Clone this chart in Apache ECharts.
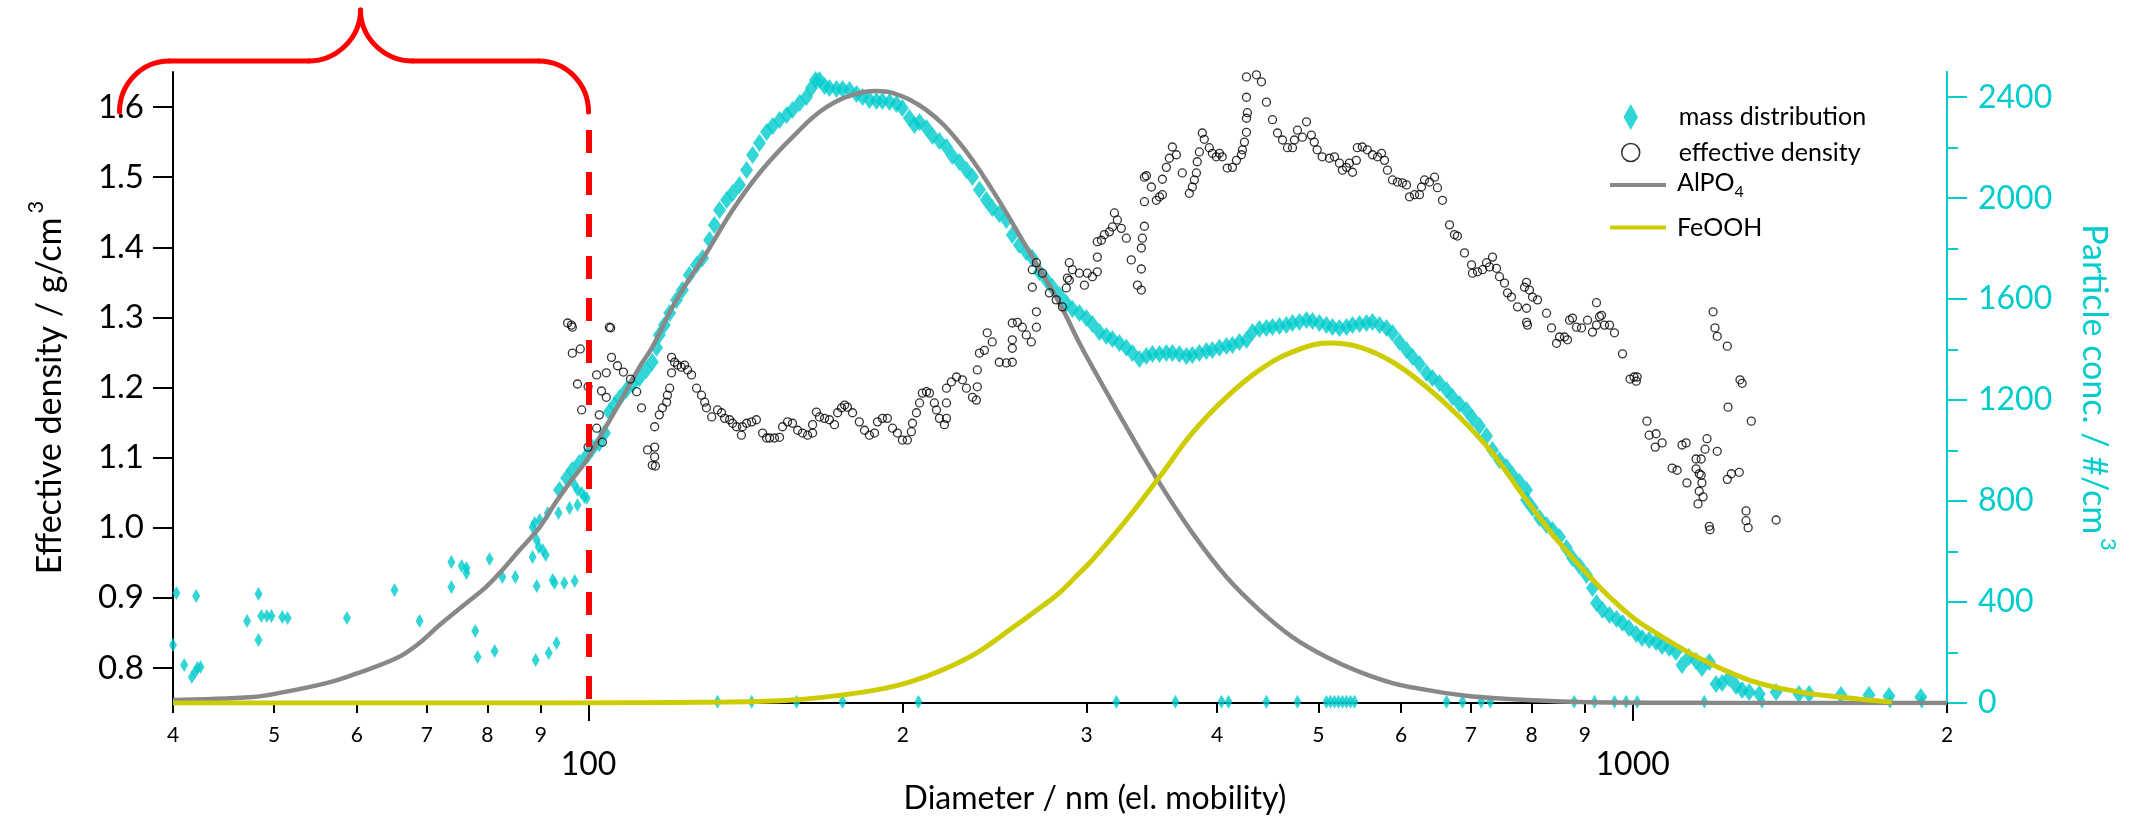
<!DOCTYPE html>
<html lang="en">
<head>
    <meta charset="UTF-8">
    <title>Effective density and mass distribution</title>
    <script src="https://cdn.jsdelivr.net/npm/echarts@6/dist/echarts.min.js"></script>
    <style>
        * { box-sizing: border-box; margin: 0; padding: 0; }
        body { background: #ffffff; }
        #chart-container { width: 2149px; height: 819px; }
    </style>
</head>
<body>
    <div id="chart-container"></div>

    <script type="text/javascript">
        // ---- data: [diameter nm, value] ----
        // mass distribution (right axis, #/cm3): sparse points below 100 nm
        const massScatter = [[40.3,436],[40.0,230],[42.1,424],[41.0,151],[41.7,103],[42.0,123],[42.2,139],[42.5,143],[47.1,325],[48.3,432],[48.3,250],[48.6,345],[49.2,345],[49.7,345],[50.9,341],[51.5,337],[58.7,337],[65.2,448],[68.9,325],[73.9,559],[73.9,460],[75.6,543],[76.4,535],[76.4,515],[77.9,285],[78.3,182],[80.4,571],[81.3,206],[82.7,499],[85.1,499],[88.4,578],[89.2,464],[88.4,697],[88.8,713],[89.8,725],[89.2,646],[89.6,618],[90.4,606],[91.0,586],[89.0,170],[91.6,198],[93.2,238],[92.4,487],[92.8,475],[94.8,475],[97.0,483],[91.4,753],[93.6,753],[95.9,773],[97.6,784],[97.0,864],[97.6,844],[98.5,832],[99.1,816],[99.6,812]];
        // mass distribution: the dense band
        const massBand = [[93.8,844],[95.3,891],[96.5,923],[98.0,951],[99.6,979],[100.9,1010],[102.4,1030],[103.6,1070],[104.7,1153],[105.9,1181],[107.1,1208],[108.7,1240],[110.2,1264],[111.9,1288],[113.6,1319],[115.1,1351],[116.2,1407],[116.9,1458],[118.2,1498],[119.6,1545],[121.4,1597],[123.0,1636],[124.9,1696],[126.9,1735],[128.6,1763],[130.6,1834],[132.0,1894],[133.5,1953],[135.6,1993],[137.4,2021],[139.5,2052],[141.7,2112],[143.6,2171],[145.8,2219],[148.1,2262],[150.1,2286],[152.4,2310],[154.8,2330],[156.8,2349],[159.3,2377],[161.7,2401],[163.5,2437],[165.0,2468],[166.4,2468],[168.3,2445],[170.1,2437],[172.8,2433],[175.1,2433],[177.8,2429],[180.6,2413],[183.0,2401],[185.8,2389],[188.7,2385],[191.2,2385],[194.2,2381],[197.2,2373],[199.8,2357],[202.9,2318],[205.2,2290],[207.5,2302],[210.7,2278],[213.5,2246],[216.8,2227],[220.2,2203],[223.1,2167],[226.6,2143],[230.1,2112],[233.2,2084],[236.8,2033],[240.4,1993],[243.6,1961],[247.4,1937],[251.3,1914],[254.6,1854],[258.6,1815],[262.6,1787],[266.1,1763],[270.3,1708],[274.5,1676],[278.1,1648],[282.4,1616],[286.8,1585],[290.7,1561],[295.2,1545],[299.8,1525],[303.8,1502],[308.5,1470],[313.3,1454],[317.5,1442],[322.4,1426],[327.4,1407],[331.8,1387],[337.0,1363],[342.2,1375],[346.8,1383],[352.2,1383],[357.6,1387],[362.4,1387],[368.0,1383],[373.8,1375],[378.7,1379],[384.6,1387],[390.6,1395],[395.8,1399],[402.0,1407],[408.3,1414],[413.7,1418],[420.1,1430],[426.7,1438],[432.4,1470],[439.1,1482],[445.9,1486],[451.9,1490],[458.9,1494],[466.0,1498],[472.3,1506],[479.6,1510],[487.1,1517],[493.6,1513],[501.2,1506],[509.0,1498],[515.8,1490],[523.8,1486],[532.0,1490],[539.1,1498],[547.5,1502],[556.0,1506],[563.4,1510],[572.2,1498],[581.1,1486],[588.8,1466],[598.0,1430],[607.3,1399],[615.4,1371],[624.9,1343],[634.7,1307],[643.1,1288],[653.1,1268],[663.3,1240],[672.1,1212],[682.6,1185],[693.2,1161],[702.4,1129],[713.4,1097],[724.5,1058],[734.1,1002],[745.5,963],[757.1,935],[767.2,903],[779.1,876],[791.3,844],[791.3,804],[801.8,773],[814.3,733],[826.9,705],[838.0,685],[851.0,658],[864.2,614],[875.7,574],[889.4,543],[903.2,507],[915.2,456],[923.3,396],[935.6,368],[950.2,349],[965.0,333],[977.8,317],[992.1,297],[1008,273],[1021,258],[1037,250],[1053,242],[1067,226],[1084,218],[1100,202],[1115,151],[1132,182],[1150,166],[1165,139],[1184,162],[1202,75],[1218,79],[1237,99],[1256,67],[1273,52],[1293,44],[1322,36],[1372,44],[1443,36],[1476,36],[1583,32],[1684,32],[1760,28],[1888,24]];
        // mass distribution: points sitting on the zero line
        const massFloor = [[132.9,5],[143.3,5],[158.2,5],[175.1,5],[207.0,5],[320.3,5],[364.8,5],[403.8,5],[410.1,5],[445.9,5],[477.5,5],[509.0,5],[513.6,5],[518.1,5],[522.7,5],[527.3,5],[532.0,5],[536.7,5],[541.5,5],[663.3,5],[687.1,5],[716.1,5],[730.5,5],[878.9,5],[919.3,5],[960.7,5],[985.6,5],[1010,5],[1171,5],[1330,5],[1764,5],[1892,5]];

        // effective density (left axis, g/cm3)
        const densityPoints = [[95.5,1.292],[96.3,1.289],[96.5,1.286],[104.7,1.286],[105.0,1.285],[96.5,1.249],[98.2,1.255],[105.2,1.243],[106.6,1.231],[101.8,1.218],[104.0,1.221],[97.6,1.205],[99.9,1.201],[102.9,1.195],[104.0,1.186],[108.0,1.222],[109.7,1.212],[111.2,1.194],[112.4,1.171],[98.5,1.168],[102.4,1.161],[101.8,1.142],[103.1,1.122],[99.9,1.115],[115.7,1.144],[113.9,1.111],[115.7,1.115],[115.7,1.101],[115.1,1.089],[115.9,1.088],[116.9,1.161],[117.7,1.171],[118.8,1.179],[119.0,1.189],[119.6,1.199],[120.1,1.221],[120.1,1.243],[120.9,1.236],[121.7,1.232],[122.7,1.229],[123.6,1.232],[124.4,1.225],[125.5,1.218],[126.9,1.199],[128.3,1.189],[129.2,1.179],[129.7,1.171],[131.2,1.158],[132.9,1.168],[134.1,1.164],[135.0,1.156],[136.5,1.154],[137.4,1.149],[138.6,1.144],[140.1,1.132],[140.4,1.144],[141.7,1.149],[143.3,1.151],[144.8,1.154],[146.8,1.135],[148.1,1.128],[149.1,1.128],[150.7,1.128],[152.4,1.129],[153.4,1.144],[155.1,1.151],[156.8,1.149],[158.6,1.139],[160.3,1.135],[162.1,1.132],[163.9,1.135],[163.9,1.147],[165.3,1.165],[166.4,1.158],[168.3,1.156],[170.1,1.154],[172.0,1.147],[173.2,1.164],[174.7,1.171],[175.9,1.175],[177.0,1.172],[179.0,1.164],[181.7,1.151],[183.8,1.139],[185.8,1.132],[187.9,1.135],[189.1,1.151],[191.2,1.156],[193.3,1.156],[195.5,1.142],[197.6,1.135],[199.8,1.125],[202.0,1.125],[203.8,1.137],[204.3,1.149],[206.1,1.164],[207.5,1.178],[208.8,1.192],[210.7,1.194],[212.1,1.192],[214.4,1.178],[215.4,1.168],[216.8,1.156],[219.2,1.147],[220.2,1.156],[220.2,1.178],[220.2,1.199],[222.6,1.208],[225.1,1.215],[228.1,1.211],[230.1,1.199],[233.2,1.186],[235.2,1.182],[235.7,1.201],[235.7,1.225],[236.8,1.249],[239.4,1.253],[240.9,1.278],[243.6,1.265],[247.4,1.236],[251.3,1.235],[254.6,1.236],[254.6,1.256],[254.6,1.268],[254.6,1.292],[257.5,1.293],[260.3,1.286],[262.6,1.275],[265.5,1.265],[268.5,1.286],[268.5,1.308],[266.1,1.368],[268.5,1.378],[272.1,1.363],[266.1,1.343],[276.3,1.335],[280.5,1.325],[288.7,1.378],[290.7,1.368],[288.7,1.353],[284.3,1.315],[286.8,1.342],[287.5,1.356],[295.2,1.363],[298.5,1.346],[300.4,1.363],[303.8,1.358],[307.1,1.365],[307.1,1.386],[307.1,1.408],[309.9,1.410],[311.9,1.418],[315.4,1.422],[317.5,1.429],[318.9,1.449],[321.0,1.439],[323.8,1.427],[327.4,1.413],[331.0,1.382],[335.5,1.346],[338.4,1.339],[338.4,1.369],[338.4,1.399],[339.2,1.413],[340.7,1.430],[340.7,1.465],[340.7,1.500],[342.2,1.502],[346.0,1.486],[349.8,1.467],[352.2,1.472],[354.5,1.475],[354.5,1.497],[357.6,1.514],[360.0,1.527],[362.4,1.543],[365.6,1.532],[370.4,1.506],[376.2,1.477],[378.7,1.486],[380.4,1.496],[382.1,1.506],[382.8,1.522],[384.6,1.536],[387.1,1.563],[388.8,1.554],[393.1,1.542],[395.8,1.534],[399.2,1.529],[402.0,1.534],[404.5,1.529],[409.0,1.513],[413.7,1.514],[417.4,1.524],[422.0,1.532],[422.9,1.539],[424.8,1.550],[426.7,1.564],[426.7,1.584],[427.6,1.592],[426.7,1.614],[426.7,1.643],[436.2,1.646],[441.0,1.636],[445.9,1.607],[451.9,1.582],[456.9,1.563],[462.0,1.553],[467.1,1.542],[472.3,1.542],[474.3,1.553],[477.5,1.567],[482.7,1.557],[487.1,1.579],[492.4,1.560],[495.5,1.550],[498.7,1.539],[504.3,1.529],[512.4,1.527],[518.1,1.529],[523.8,1.520],[527.3,1.510],[532.0,1.514],[535.4,1.520],[539.1,1.507],[543.7,1.524],[544.9,1.542],[550.9,1.543],[557.0,1.539],[563.4,1.532],[569.7,1.529],[574.7,1.534],[578.5,1.524],[582.3,1.510],[588.8,1.496],[595.3,1.493],[601.9,1.492],[607.3,1.489],[611.3,1.472],[618.1,1.475],[624.9,1.475],[627.7,1.486],[631.9,1.496],[638.9,1.493],[646.0,1.500],[650.2,1.485],[657.4,1.467],[667.7,1.432],[675.1,1.418],[679.5,1.416],[690.1,1.392],[700.9,1.375],[702.4,1.363],[710.2,1.365],[718.1,1.368],[724.5,1.378],[729.3,1.372],[734.1,1.386],[740.6,1.370],[745.5,1.358],[753.8,1.349],[758.8,1.335],[765.5,1.329],[775.7,1.315],[787.8,1.343],[791.3,1.350],[796.5,1.339],[801.8,1.329],[810.7,1.325],[791.3,1.313],[791.3,1.293],[793.0,1.289],[827.0,1.306],[836.1,1.285],[845.4,1.263],[851.0,1.272],[860.4,1.272],[870.0,1.296],[875.7,1.299],[883.5,1.286],[893.3,1.285],[905.2,1.296],[915.2,1.279],[923.3,1.289],[929.4,1.301],[939.8,1.289],[950.2,1.289],[960.7,1.278],[923.3,1.321],[933.6,1.303],[866.1,1.268],[977.8,1.248],[994.3,1.212],[1003,1.215],[1008,1.209],[1010,1.215],[1032,1.152],[1037,1.132],[1053,1.134],[1051,1.115],[1067,1.121],[1091,1.085],[1103,1.082],[1115,1.118],[1125,1.121],[1127,1.064],[1150,1.098],[1163,1.098],[1150,1.084],[1158,1.077],[1163,1.075],[1165,1.064],[1158,1.052],[1168,1.044],[1155,1.034],[1173,1.112],[1178,1.127],[1205,1.109],[1194,1.308],[1199,1.285],[1205,1.273],[1232,1.259],[1267,1.211],[1273,1.206],[1234,1.172],[1299,1.152],[1232,1.069],[1243,1.077],[1265,1.079],[1184,1.002],[1186,0.997],[1284,1.024],[1284,1.010],[1290,1.000],[1372,1.011]];

        // fitted modes (right axis)
        const alpo4Fit = [[40,12],[47.7,24],[50.6,40],[56.1,79],[59.4,111],[65.5,178],[68.9,238],[72.0,309],[76.4,396],[79.8,460],[82.7,527],[85.9,606],[89.8,697],[92.4,777],[95.9,872],[99.6,963],[103.1,1070],[107.1,1189],[111.9,1331],[115.1,1410],[121.4,1597],[129.7,1783],[137.4,1953],[145.8,2100],[156.8,2242],[169.0,2361],[183.6,2421],[188.7,2425],[195.5,2417],[210.7,2349],[226.6,2219],[243.6,2033],[262.6,1807],[282.4,1585],[295.2,1426],[303.8,1331],[327.4,1094],[352.2,872],[378.7,674],[408.3,499],[439.1,368],[472.3,261],[509.0,182],[547.5,123],[588.8,79],[634.7,52],[682.6,32],[733.7,20],[791.3,12],[889.4,4],[1158,1],[2000,0]];
        const feoohFit = [[40,0],[93.8,0],[135.6,4],[156.8,12],[175.1,32],[188.7,52],[202.9,83],[218.2,131],[235.2,198],[253.0,289],[272.1,384],[282.4,436],[295.2,515],[303.8,567],[327.4,725],[352.2,895],[378.7,1070],[408.3,1212],[439.1,1319],[472.3,1391],[512.4,1426],[547.5,1410],[588.8,1351],[634.7,1252],[682.6,1133],[733.7,991],[791.3,804],[851.0,634],[929.4,460],[998.7,341],[1053,277],[1158,178],[1293,91],[1443,44],[1611,20],[1771,4]];

        // ticks and tick labels
        const xMinorTicks = [40,50,60,70,80,90,200,300,400,500,600,700,800,900,2000];
        const xMinorLabels = ['4','5','6','7','8','9','2','3','4','5','6','7','8','9','2'];
        const xMajorTicks = [100,1000];
        const densityTicks = [0.8,0.9,1.0,1.1,1.2,1.3,1.4,1.5,1.6];
        const concTicks = [0,400,800,1200,1600,2000,2400];
        const concMinorTicks = [200,600,1000,1400,1800,2200];

        const FONT = 'Lato, "Open Sans", sans-serif';
        const CYAN = '#00cccc';
        const LINE_ICON = 'path://M0,0H56V4H0Z';

        function minorLabel(v) {
            const val = v < 10 ? Math.pow(10, v) : v; // guard in case log values come through
            let best = 0, bestDiff = Infinity;
            xMinorTicks.forEach(function (t, i) {
                const d = Math.abs(Math.log10(t) - Math.log10(val));
                if (d < bestDiff) { bestDiff = d; best = i; }
            });
            return xMinorLabels[best];
        }
        function majorLabel(v) {
            const val = v < 10 ? Math.pow(10, v) : v;
            return String(Math.round(val));
        }

        // one legend block per fitted line so each row can be placed on its own
        function lineLegend(name, top) {
            return {
                orient: 'vertical', left: 1605, top: top,
                itemWidth: 56, itemHeight: 14,
                symbolKeepAspect: true,
                textStyle: {
                    fontSize: 25, color: '#000', fontFamily: FONT, padding: [0, 0, 0, 6],
                    rich: {
                        n: { fontSize: 25, lineHeight: 30, verticalAlign: 'top', fontFamily: FONT, color: '#000' },
                        sub: { fontSize: 16, lineHeight: 16, verticalAlign: 'bottom', padding: [14, 0, 0, 0], fontFamily: FONT, color: '#000' }
                    }
                },
                formatter: function (n) {
                    return n === 'AlPO4' ? '{n|AlPO}{sub|4}' : n;
                },
                data: [{ name: name, icon: LINE_ICON }]
            };
        }

        const chartDom = document.getElementById('chart-container');
        let myChart = echarts.init(chartDom, null, { renderer: 'canvas' });

        const option = {
            animation: false,
            backgroundColor: '#ffffff',
            textStyle: { fontFamily: FONT },
            grid: { left: 173, right: 202, top: 72, bottom: 116, containLabel: false, outerBoundsMode: 'none' },
            legend: [
                {
                    orient: 'vertical', left: 1616, top: 99,
                    itemWidth: 18, itemHeight: 26, itemGap: 10,
                    symbolKeepAspect: true,
                    textStyle: { fontSize: 25, color: '#000', fontFamily: FONT, padding: [0, 0, 0, 34] },
                    data: [
                        { name: 'mass distribution', icon: 'path://M0,-12.5L7,0L0,12.5L-7,0Z' },
                        { name: 'effective density', icon: 'circle', itemStyle: { color: '#ffffff', borderColor: '#000', borderWidth: 1.5 } }
                    ]
                },
                lineLegend('AlPO4', 165),
                lineLegend('FeOOH', 210)
            ],
            xAxis: [
                {
                    type: 'log', logBase: 10, min: 40, max: 2000, position: 'bottom',
                    name: 'Diameter / nm (el. mobility)',
                    nameLocation: 'middle', nameGap: 80,
                    nameTextStyle: { fontSize: 32, color: '#000', fontFamily: FONT, padding: [0, 0, 0, 70] },
                    axisLine: { show: true, lineStyle: { color: '#000', width: 2 } },
                    axisTick: { show: true, customValues: xMinorTicks, length: 10, lineStyle: { color: '#000', width: 2 } },
                    axisLabel: { show: true, customValues: xMinorTicks, formatter: minorLabel, fontSize: 21, margin: 22, color: '#000', fontFamily: FONT },
                    splitLine: { show: false },
                    minorTick: { show: false }
                },
                {
                    type: 'log', logBase: 10, min: 40, max: 2000, position: 'bottom',
                    axisLine: { show: false },
                    axisTick: { show: true, customValues: xMajorTicks, length: 18, lineStyle: { color: '#000', width: 2 } },
                    axisLabel: { show: true, customValues: xMajorTicks, formatter: majorLabel, fontSize: 32, margin: 46, color: '#000', fontFamily: FONT },
                    splitLine: { show: false }
                }
            ],
            yAxis: [
                {
                    type: 'value', min: 0.75, max: 1.65, position: 'left',
                    name: '{a|Effective density / g/cm}{s|3}',
                    nameLocation: 'middle', nameGap: 106,
                    nameTextStyle: {
                        rich: {
                            a: { fontSize: 34, lineHeight: 42, verticalAlign: 'bottom', padding: [14, 0, 0, 0], color: '#000', fontFamily: FONT },
                            s: { fontSize: 22, verticalAlign: 'top', padding: [0, 0, 0, 4], color: '#000', fontFamily: FONT }
                        }
                    },
                    axisLine: { show: true, lineStyle: { color: '#000', width: 2 } },
                    axisTick: { show: true, customValues: densityTicks, length: 20, lineStyle: { color: '#000', width: 2 } },
                    axisLabel: {
                        show: true, customValues: densityTicks, margin: 29, fontSize: 33, color: '#000', fontFamily: FONT,
                        formatter: function (v) { return Number(v).toFixed(1); }
                    },
                    splitLine: { show: false }
                },
                {
                    type: 'value', min: 0, max: 2500, position: 'right',
                    name: '{a|Particle conc. / #/cm}{s|3}',
                    nameLocation: 'middle', nameGap: 130, nameRotate: -90,
                    nameTextStyle: {
                        rich: {
                            a: { fontSize: 34, lineHeight: 42, verticalAlign: 'bottom', padding: [14, 0, 0, 0], color: CYAN, fontFamily: FONT },
                            s: { fontSize: 22, verticalAlign: 'top', padding: [0, 0, 0, 4], color: CYAN, fontFamily: FONT }
                        }
                    },
                    axisLine: { show: true, lineStyle: { color: CYAN, width: 2 } },
                    axisTick: { show: true, customValues: concTicks, length: 20, lineStyle: { color: CYAN, width: 2 } },
                    axisLabel: {
                        show: true, customValues: concTicks, margin: 31, fontSize: 32, color: CYAN, fontFamily: FONT,
                        formatter: function (v) { return String(Math.round(v)); }
                    },
                    splitLine: { show: false }
                },
                {
                    // minor ticks of the right axis
                    type: 'value', min: 0, max: 2500, position: 'right',
                    axisLine: { show: true, lineStyle: { color: CYAN, width: 2 } },
                    axisTick: { show: true, customValues: concMinorTicks, length: 11, lineStyle: { color: CYAN, width: 2 } },
                    axisLabel: { show: false },
                    splitLine: { show: false }
                }
            ],
            series: [
                {
                    name: 'mass distribution', type: 'scatter',
                    xAxisIndex: 0, yAxisIndex: 1,
                    symbol: 'diamond', symbolSize: [8, 14],
                    itemStyle: { color: CYAN },
                    data: massScatter.concat(massFloor),
                    z: 2,
                    markLine: {
                        silent: true, symbol: ['none', 'none'],
                        label: { show: false },
                        lineStyle: { color: '#ff0000', width: 6, type: [23, 19] },
                        data: [[{ coord: [100, 2270] }, { coord: [100, 0] }]],
                        z: 10
                    }
                },
                {
                    // same series name: the band shares the legend entry
                    name: 'mass distribution', type: 'scatter',
                    xAxisIndex: 0, yAxisIndex: 1,
                    symbol: 'diamond', symbolSize: [13, 18],
                    itemStyle: { color: CYAN },
                    data: massBand,
                    z: 2
                },
                {
                    name: 'AlPO4', type: 'line',
                    xAxisIndex: 0, yAxisIndex: 1,
                    showSymbol: false, symbol: 'none', smooth: 0.4,
                    lineStyle: { color: '#888888', width: 4.5 },
                    itemStyle: { color: '#888888' },
                    data: alpo4Fit,
                    z: 3
                },
                {
                    name: 'FeOOH', type: 'line',
                    xAxisIndex: 0, yAxisIndex: 1,
                    showSymbol: false, symbol: 'none', smooth: 0.4,
                    lineStyle: { color: '#cccc00', width: 5 },
                    itemStyle: { color: '#cccc00' },
                    data: feoohFit,
                    z: 3
                },
                {
                    name: 'effective density', type: 'scatter',
                    xAxisIndex: 0, yAxisIndex: 0,
                    symbol: 'circle', symbolSize: 8,
                    itemStyle: { color: 'rgba(255,255,255,0)', borderColor: '#000', borderWidth: 1.3 },
                    data: densityPoints,
                    z: 4
                }
            ]
        };

        myChart.setOption(option);

        // red brace over the < 100 nm range, anchored to the x = 100 nm position
        const x100 = myChart.convertToPixel({ xAxisIndex: 0 }, 100);
        const yTop = myChart.convertToPixel({ yAxisIndex: 0 }, 1.65);
        const xl = x100 - 469, xr = x100, cx = xl + 241;
        const yEnd = yTop + 40, yBar = yTop - 11, yPeak = yTop - 62;
        const braceStyle = { stroke: '#ff0000', lineWidth: 5, fill: null, lineCap: 'round' };
        function curve(x1, y1, c1x, c1y, c2x, c2y, x2, y2) {
            return {
                type: 'bezierCurve', silent: true, z: 20,
                shape: { x1: x1, y1: y1, cpx1: c1x, cpy1: c1y, cpx2: c2x, cpy2: c2y, x2: x2, y2: y2 },
                style: braceStyle
            };
        }
        function segment(x1, y1, x2, y2) {
            return { type: 'line', silent: true, z: 20, shape: { x1: x1, y1: y1, x2: x2, y2: y2 }, style: braceStyle };
        }
        myChart.setOption({
            graphic: [
                curve(xl, yEnd, xl, yEnd - 28, xl + 22, yBar, xl + 50, yBar),
                segment(xl + 50, yBar, cx - 52, yBar),
                curve(cx - 52, yBar, cx - 24, yBar, cx, yPeak + 28, cx, yPeak),
                curve(cx, yPeak, cx, yPeak + 28, cx + 24, yBar, cx + 52, yBar),
                segment(cx + 52, yBar, xr - 50, yBar),
                curve(xr - 50, yBar, xr - 22, yBar, xr, yEnd - 28, xr, yEnd)
            ]
        });

        window.addEventListener('resize', function () {
            if (myChart) { myChart.resize(); }
        });
    </script>
</body>
</html>
